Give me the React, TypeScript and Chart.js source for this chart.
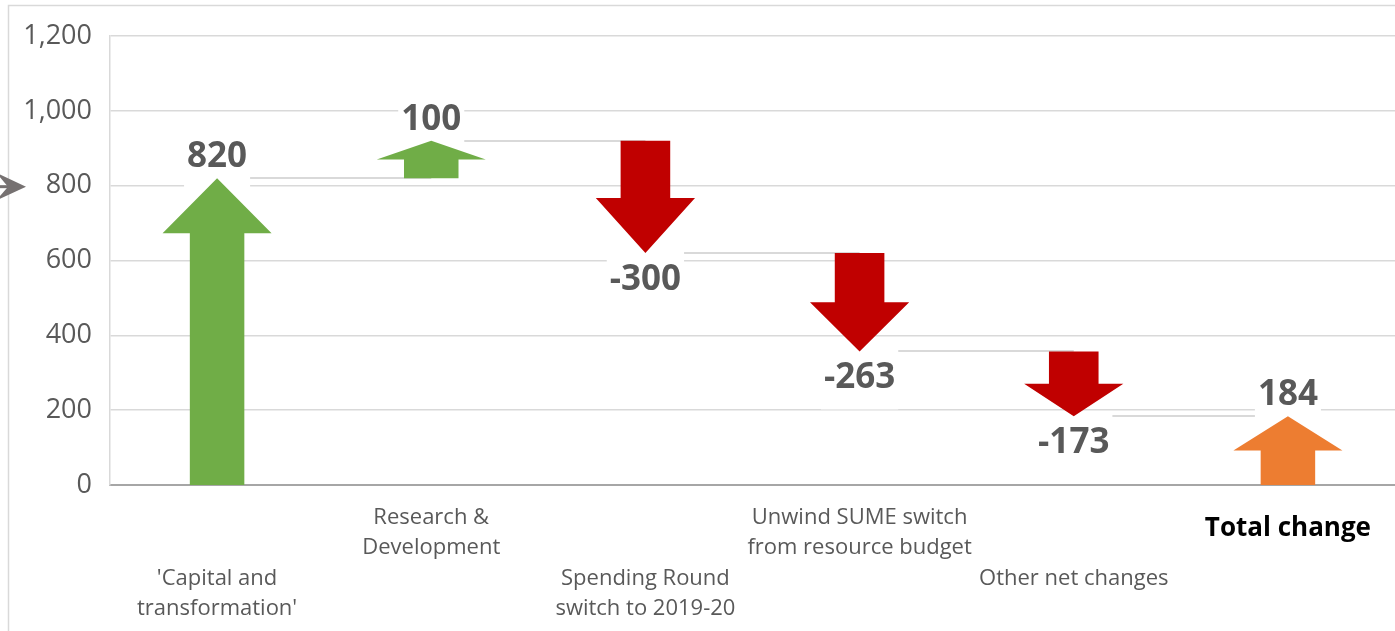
import React, { useEffect, useRef } from 'react';
import { Chart, registerables } from 'chart.js';

Chart.register(...registerables);

// ---- data ----
const categories = [
  "'Capital and transformation'",
  'Research & Development',
  'Spending Round switch to 2019-20',
  'Unwind SUME switch from resource budget',
  'Other net changes',
  'Total change',
];
const categoryLines: string[][] = [
  ['', '', "'Capital and", "transformation'"],
  ['Research &', 'Development'],
  ['', '', 'Spending Round', 'switch to 2019-20'],
  ['Unwind SUME switch', 'from resource budget'],
  ['', '', 'Other net changes'],
  ['Total change'],
];
const changes = [820, 100, -300, -263, -173];
const totalChange = 184;
const yTickValues = [0, 200, 400, 600, 800, 1000, 1200];
const markerValue = 800;

// ---- derived ----
const ranges: [number, number][] = [];
let running = 0;
for (const c of changes) {
  ranges.push([running, running + c]);
  running += c;
}
ranges.push([0, totalChange]);
const valueLabels = [...changes, totalChange];

const GREEN = '#70AD47';
const RED = '#C00000';
const ORANGE = '#ED7D31';
const arrowColors = [GREEN, GREEN, RED, RED, RED, ORANGE];
const TEXT = '#595959';
const FONT = "'Open Sans', 'DejaVu Sans', sans-serif";
const GRID = '#d9d9d9';
const VALUE_FONT = `bold 35px ${FONT}`;

const arrowPlugin = {
  id: 'arrowWaterfall',
  beforeDraw(chart: any) {
    const ctx = chart.ctx;
    ctx.save();
    ctx.fillStyle = '#ffffff';
    ctx.fillRect(0, 0, chart.width, chart.height);
    ctx.strokeStyle = GRID;
    ctx.lineWidth = 1.5;
    ctx.strokeRect(8.5, 5.5, chart.width + 20, chart.height + 20);
    ctx.restore();
  },
  beforeDatasetsDraw(chart: any) {
    const ctx = chart.ctx;
    const ys = chart.scales.y;
    const meta = chart.getDatasetMeta(0);
    ctx.save();
    // connectors
    ctx.strokeStyle = GRID;
    ctx.lineWidth = 2;
    for (let i = 0; i < ranges.length - 1; i++) {
      const py = Math.round(ys.getPixelForValue(ranges[i][1]));
      ctx.beginPath();
      ctx.moveTo(meta.data[i].x, py);
      ctx.lineTo(meta.data[i + 1].x, py);
      ctx.stroke();
    }
    // label backgrounds
    ctx.font = VALUE_FONT;
    ctx.fillStyle = '#ffffff';
    for (let i = 0; i < ranges.length; i++) {
      const [s, e] = ranges[i];
      const tip = ys.getPixelForValue(e);
      const cy = e >= s ? tip - 21 : tip + 27;
      const txt = String(valueLabels[i]);
      const w = ctx.measureText(txt).width;
      ctx.fillRect(meta.data[i].x - w / 2 - 3, cy - 31, w + 6, 62);
    }
    ctx.restore();
  },
  afterDatasetsDraw(chart: any) {
    const ctx = chart.ctx;
    const ys = chart.scales.y;
    const meta = chart.getDatasetMeta(0);
    ctx.save();
    for (let i = 0; i < ranges.length; i++) {
      const [s, e] = ranges[i];
      const el = meta.data[i];
      const x = el.x;
      const hw = el.width * (arrowColors[i] === RED ? 0.91 : 1);
      const sw = hw / 2;
      const baseY = ys.getPixelForValue(s);
      const tipY = ys.getPixelForValue(e);
      const len = Math.abs(baseY - tipY);
      const dir = tipY < baseY ? -1 : 1; // -1 = up
      const headH = Math.min(len * 0.5, 55);
      const headBase = tipY - dir * headH;
      ctx.fillStyle = arrowColors[i];
      ctx.beginPath();
      ctx.moveTo(x - sw / 2, baseY);
      ctx.lineTo(x - sw / 2, headBase);
      ctx.lineTo(x - hw / 2, headBase);
      ctx.lineTo(x, tipY);
      ctx.lineTo(x + hw / 2, headBase);
      ctx.lineTo(x + sw / 2, headBase);
      ctx.lineTo(x + sw / 2, baseY);
      ctx.closePath();
      ctx.fill();
    }
    ctx.font = VALUE_FONT;
    ctx.fillStyle = TEXT;
    ctx.textAlign = 'center';
    ctx.textBaseline = 'middle';
    for (let i = 0; i < ranges.length; i++) {
      const [s, e] = ranges[i];
      const tip = ys.getPixelForValue(e);
      const cy = e >= s ? tip - 21 : tip + 27;
      ctx.fillText(String(valueLabels[i]), meta.data[i].x, cy);
    }
    // marker arrow on the left pointing at the axis
    const my = ys.getPixelForValue(markerValue) + 1;
    ctx.fillStyle = '#767171';
    ctx.strokeStyle = '#767171';
    ctx.lineWidth = 3;
    ctx.beginPath();
    ctx.moveTo(-4, my);
    ctx.lineTo(14, my);
    ctx.stroke();
    ctx.beginPath();
    ctx.moveTo(26, my);
    ctx.lineTo(-4, my - 14);
    ctx.lineTo(8, my);
    ctx.lineTo(-4, my + 14);
    ctx.closePath();
    ctx.fill();
    ctx.restore();
  },
};

export default function App() {
  const ref = useRef<HTMLCanvasElement | null>(null);

  useEffect(() => {
    document.body.style.margin = '0';
    const canvas = ref.current;
    if (!canvas) return;
    const chart = new Chart(canvas, {
      type: 'bar',
      data: {
        labels: categories,
        datasets: [
          {
            data: ranges as any,
            backgroundColor: 'rgba(0,0,0,0)',
            borderWidth: 0,
            barPercentage: 0.509,
            categoryPercentage: 1,
          },
        ],
      },
      options: {
        responsive: false,
        animation: false,
        devicePixelRatio: 1,
        layout: { padding: { top: 36, left: 0, right: 0, bottom: 0 } },
        plugins: {
          legend: { display: false },
          tooltip: { enabled: false },
        },
        scales: {
          x: {
            grid: { display: false, drawTicks: false },
            border: { display: true, color: '#a6a6a6', width: 2 },
            ticks: {
              autoSkip: false,
              maxRotation: 0,
              minRotation: 0,
              padding: 17,
              callback: (_v: any, i: number) => categoryLines[i],
              color: (c: any) => (c.index === 5 ? '#000000' : TEXT),
              font: (c: any) =>
                c.index === 5
                  ? { family: FONT, size: 26, weight: 'bold', lineHeight: 54 / 26 }
                  : { family: FONT, size: 22, lineHeight: 30.5 / 22 },
            },
            afterFit: (s: any) => {
              s.height = 146;
            },
          },
          y: {
            min: 0,
            max: 1200,
            afterBuildTicks: (s: any) => {
              s.ticks = yTickValues.map((v) => ({ value: v }));
            },
            grid: { color: GRID, lineWidth: 1.5, drawTicks: false },
            border: { display: true, color: GRID, width: 1.5 },
            ticks: {
              padding: 18,
              color: TEXT,
              font: { family: FONT, size: 27 },
              callback: (v: any) => Number(v).toLocaleString('en-US'),
            },
            afterFit: (s: any) => {
              s.width = 110;
            },
          },
        },
      },
      plugins: [arrowPlugin],
    });
    return () => chart.destroy();
  }, []);

  return (
    <div style={{ width: 1395, height: 631, background: '#fff' }}>
      <canvas ref={ref} width={1395} height={631} style={{ display: 'block' }} />
    </div>
  );
}
